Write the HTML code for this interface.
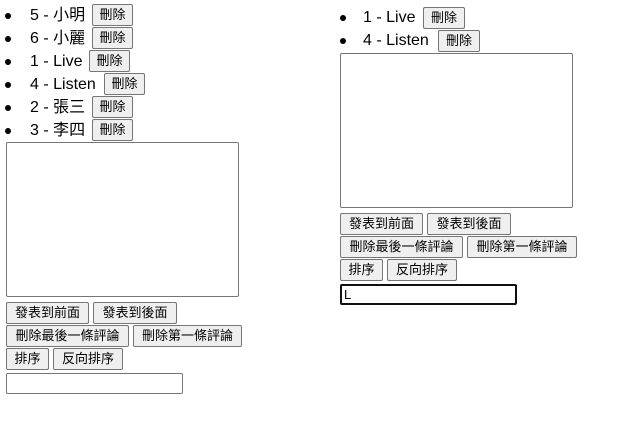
<!DOCTYPE html>
<html><head><meta charset="utf-8"><style>
body{margin:0;width:644px;height:433px;background:#fff;position:relative;font-family:"Liberation Sans","Noto Sans CJK TC",sans-serif;color:#000;overflow:hidden}
.t{position:absolute;font-size:16px;line-height:20px;white-space:nowrap}
.d{position:absolute;width:6px;height:6px;border-radius:50%;background:#000}
.b{position:absolute;height:20px;border:1px solid #767676;border-radius:2px;background:#efefef;font-size:13px;line-height:20px;text-align:center;white-space:nowrap;box-sizing:content-box}
.ta{position:absolute;border:1px solid #767676;border-radius:2px;background:#fff}
.in{position:absolute;border:1px solid #767676;border-radius:2px;background:#fff}
</style></head><body>
<div class="d" style="left:5px;top:13px"></div><div class="t" style="left:30px;top:6px">5 - 小明</div><div class="b" style="left:92px;top:4px;width:39px">刪除</div>
<div class="d" style="left:5px;top:36px"></div><div class="t" style="left:30px;top:29px">6 - 小麗</div><div class="b" style="left:92px;top:27px;width:39px">刪除</div>
<div class="d" style="left:5px;top:59px"></div><div class="t" style="left:30px;top:52px">1 - Live</div><div class="b" style="left:89px;top:50px;width:39px">刪除</div>
<div class="d" style="left:5px;top:82px"></div><div class="t" style="left:30px;top:75px">4 - Listen</div><div class="b" style="left:104px;top:73px;width:39px">刪除</div>
<div class="d" style="left:5px;top:105px"></div><div class="t" style="left:30px;top:98px">2 - 張三</div><div class="b" style="left:92px;top:96px;width:39px">刪除</div>
<div class="d" style="left:5px;top:128px"></div><div class="t" style="left:30px;top:121px">3 - 李四</div><div class="b" style="left:92px;top:119px;width:39px">刪除</div>
<div class="ta" style="left:6px;top:142px;width:231px;height:153px"></div>
<div class="b" style="left:6px;top:302px;width:81px">發表到前面</div>
<div class="b" style="left:93px;top:302px;width:82px">發表到後面</div>
<div class="b" style="left:6px;top:325px;width:121px">刪除最後一條評論</div>
<div class="b" style="left:133px;top:325px;width:107px">刪除第一條評論</div>
<div class="b" style="left:6px;top:348px;width:41px">排序</div>
<div class="b" style="left:53px;top:348px;width:68px">反向排序</div>
<div class="in" style="left:6px;top:373px;width:175px;height:19px"></div>

<div class="d" style="left:340px;top:15px"></div><div class="t" style="left:363px;top:8px">1 - Live</div><div class="b" style="left:423px;top:7px;width:40px">刪除</div>
<div class="d" style="left:340px;top:38px"></div><div class="t" style="left:363px;top:31px">4 - Listen</div><div class="b" style="left:438px;top:30px;width:40px">刪除</div>
<div class="ta" style="left:340px;top:53px;width:231px;height:153px"></div>
<div class="b" style="left:340px;top:213px;width:81px">發表到前面</div>
<div class="b" style="left:427px;top:213px;width:82px">發表到後面</div>
<div class="b" style="left:340px;top:236px;width:121px">刪除最後一條評論</div>
<div class="b" style="left:467px;top:236px;width:108px">刪除第一條評論</div>
<div class="b" style="left:340px;top:259px;width:41px">排序</div>
<div class="b" style="left:387px;top:259px;width:68px">反向排序</div>
<div class="in" style="left:340px;top:284px;width:171px;height:17px;border:2px solid #101010;font-size:13px;line-height:17px;padding-left:2px;box-sizing:content-box">L</div>
</body></html>
